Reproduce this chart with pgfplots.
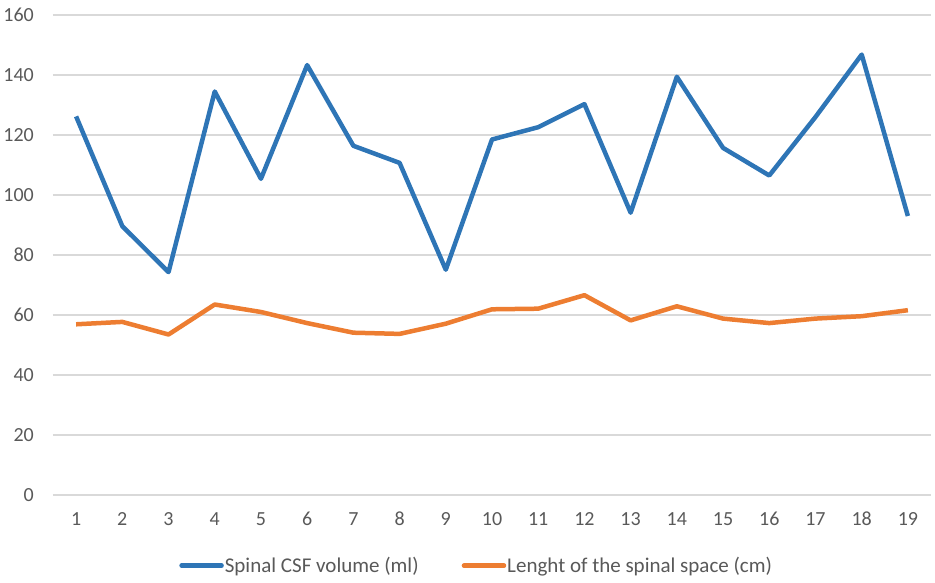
\documentclass[border=0pt]{standalone}
\usepackage{pgfplots}
\pgfplotsset{compat=1.18}
\usepackage{fontspec}
\setmainfont{Carlito}
\definecolor{serblue}{HTML}{2E75B6}
\definecolor{serorange}{HTML}{ED7D31}
\definecolor{gridgray}{HTML}{D9D9D9}
\definecolor{txtgray}{HTML}{595959}
\begin{document}
\begin{tikzpicture}
\begin{axis}[
  scale only axis,
  width=878pt, height=480pt,
  xmin=0.5, xmax=19.5,
  ymin=0, ymax=160,
  ytick={0,20,...,160},
  xtick={1,...,19},
  axis line style={draw=none},
  major tick length=0pt,
  ymajorgrids,
  grid style={gridgray, line width=1.2pt},
  tick label style={font=\fontsize{20}{24}\selectfont, text=txtgray},
  /pgf/number format/assume math mode=true,
  yticklabel style={inner sep=0pt, xshift=-19pt},
  xticklabel style={inner sep=0pt, yshift=-17pt},
  legend style={draw=none, at={(0.482,-0.147)}, anchor=center,
    font=\fontsize{21}{25}\selectfont, text=txtgray,
    nodes={inner xsep=1pt, inner ysep=2pt},
    /tikz/every even column/.append style={column sep=42pt},
    inner sep=0pt},
  legend columns=2,
  legend image code/.code={\draw[#1, line width=4.5pt, line cap=round] (0pt,0pt) -- (40pt,0pt);},
  clip=false,
]
\addplot[serblue, line width=4.5pt, line join=round] coordinates {
(1,126.2) (2,89.6) (3,74.3) (4,134.5) (5,105.4) (6,143.3) (7,116.4) (8,110.7) (9,75.1) (10,118.5)
(11,122.6) (12,130.3) (13,94.1) (14,139.4) (15,115.7) (16,106.5) (17,126.0) (18,146.8) (19,93.0)};
\addlegendentry{Spinal CSF volume (ml)}
\addplot[serorange, line width=4.5pt, line join=round] coordinates {
(1,56.9) (2,57.7) (3,53.5) (4,63.5) (5,61.0) (6,57.3) (7,54.1) (8,53.7) (9,57.1) (10,61.9)
(11,62.1) (12,66.6) (13,58.2) (14,62.9) (15,58.8) (16,57.3) (17,58.8) (18,59.6) (19,61.6)};
\addlegendentry{Lenght of the spinal space (cm)}
\end{axis}
\path (current axis.south west) ++(-53pt,-88pt);
\path (current axis.north east) ++(4pt,15pt);
\end{tikzpicture}
\end{document}
